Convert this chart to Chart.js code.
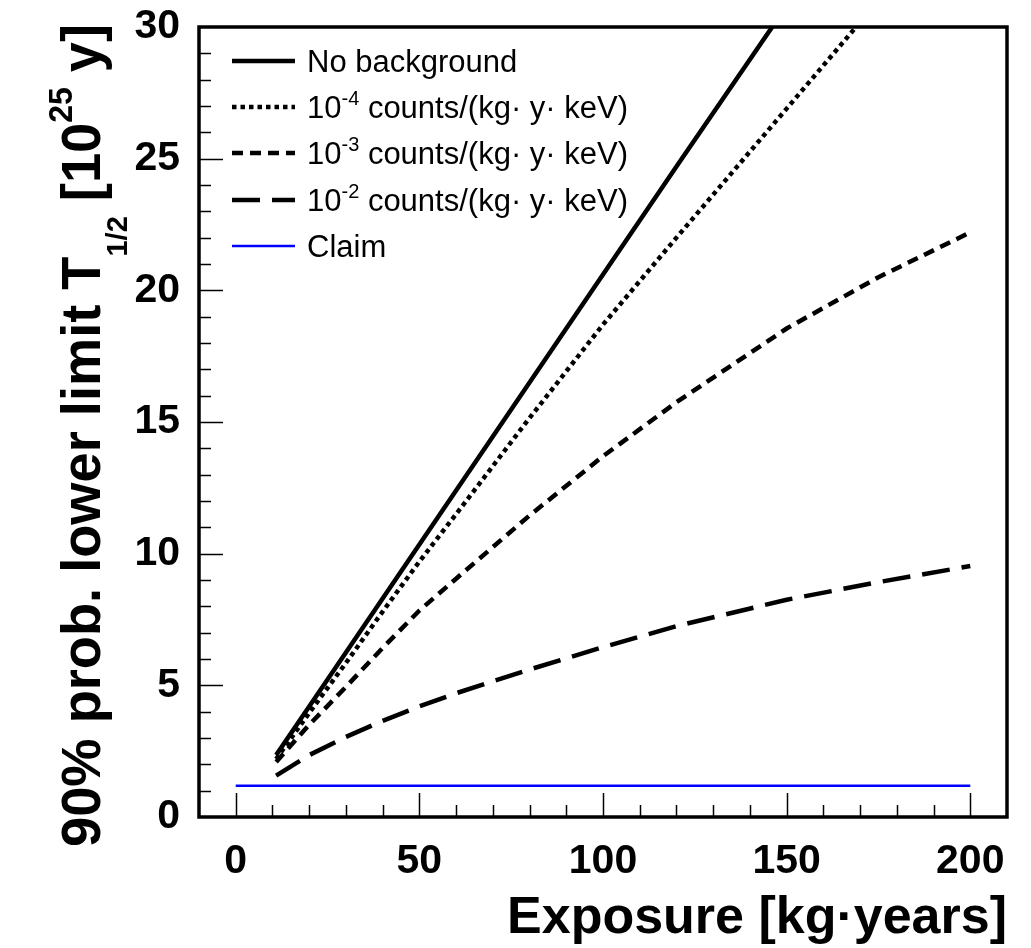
<!DOCTYPE html>
<html>
<head>
<meta charset="utf-8">
<script src="https://cdn.jsdelivr.net/npm/chart.js@4/dist/chart.umd.min.js"></script>
<style>
  html, body { margin: 0; padding: 0; background: #fff; }
</style>
</head>
<body>
<canvas id="grafico" width="1031" height="948"></canvas>
<script>
// dados
const exposicao = [11, 20, 30, 40, 50, 60, 80, 100, 120, 150, 175, 200];
const semFundo  = [2.35, 4.2, 6.25, 8.3, 10.35, 12.4, 16.5, 20.6, 24.7, 30.8, null, null];
const fundo4    = [2.2, 3.95, 5.85, 7.8, 9.7, 11.5, 15.15, 18.7, 22.0, 26.9, 31.0, null];
const fundo3    = [2.09, 3.5, 4.94, 6.42, 7.84, 9.05, 11.45, 13.7, 15.75, 18.55, 20.5, 22.2];
const fundo2    = [1.57, 2.35, 3.04, 3.65, 4.2, 4.7, 5.6, 6.45, 7.25, 8.25, 8.92, 9.53];
const claimX = [0, 200];
const claimY = [1.19, 1.19];

const xTicks = [0, 50, 100, 150, 200];
const yTicks = [0, 5, 10, 15, 20, 25, 30];

const rotulos = [
  'No background',
  '10^{-4} counts/(kg· y· keV)',
  '10^{-3} counts/(kg· y· keV)',
  '10^{-2} counts/(kg· y· keV)',
  'Claim'
];
const tituloX = 'Exposure [kg·years]';
const tituloY = '90% prob. lower limit T_{1/2} [10^{25} y]';

const FONTE = '"Liberation Sans", Arial, Helvetica, sans-serif';

function pontos(xs, ys) {
  return xs.map((x, i) => ({ x: x, y: ys[i] }));
}

// texto com ^{} e _{}
function textoRico(ctx, txt, y, tam, peso, supTam, supDy, subTam, subDy) {
  const partes = txt.split(/(\^\{[^}]*\}|_\{[^}]*\})/).filter(p => p.length);
  const itens = partes.map(p => {
    if (p.startsWith('^{')) return { t: p.slice(2, -1), s: supTam, dy: -supDy };
    if (p.startsWith('_{')) return { t: p.slice(2, -1), s: subTam, dy: subDy };
    return { t: p, s: tam, dy: 0 };
  });
  let larg = 0;
  itens.forEach(it => {
    ctx.font = peso + ' ' + it.s + 'px ' + FONTE;
    it.w = ctx.measureText(it.t).width;
    larg += it.w;
  });
  return {
    larg: larg,
    desenha(x0) {
      let cx = x0;
      itens.forEach(it => {
        ctx.font = peso + ' ' + it.s + 'px ' + FONTE;
        ctx.fillText(it.t, cx, y + it.dy);
        cx += it.w;
      });
    }
  };
}

const moldura = {
  id: 'moldura',
  afterDraw(chart) {
    const { ctx, chartArea: a, scales: { x, y } } = chart;
    ctx.save();
    ctx.strokeStyle = '#000';
    ctx.fillStyle = '#000';

    // marcas dos eixos (para dentro)
    ctx.lineWidth = 1.5;
    ctx.beginPath();
    for (let v = 0; v <= 200; v += 10) {
      const px = Math.round(x.getPixelForValue(v)) + 0.5;
      const len = v % 50 === 0 ? 24 : 12;
      ctx.moveTo(px, a.bottom);
      ctx.lineTo(px, a.bottom - len);
    }
    for (let v = 1; v < 30; v += 1) {
      const py = Math.round(y.getPixelForValue(v)) + 0.5;
      const len = v % 5 === 0 ? 24 : 12;
      ctx.moveTo(a.left, py);
      ctx.lineTo(a.left + len, py);
    }
    ctx.stroke();

    // caixa
    ctx.lineWidth = 3.5;
    ctx.strokeRect(a.left, a.top, a.right - a.left, a.bottom - a.top);

    // legenda
    const linhasY = [61, 107, 153, 200, 246];
    chart.data.datasets.forEach((ds, i) => {
      const ly = linhasY[i];
      ctx.save();
      ctx.strokeStyle = ds.borderColor;
      ctx.lineWidth = ds.borderWidth;
      ctx.setLineDash(ds.borderDash || []);
      ctx.beginPath();
      ctx.moveTo(232, ly);
      ctx.lineTo(295, ly);
      ctx.stroke();
      ctx.restore();
      ctx.textBaseline = 'alphabetic';
      ctx.textAlign = 'left';
      const r = textoRico(ctx, ds.label, ly + 11, 31, 'normal', 20, 13, 20, 8);
      r.desenha(307);
    });

    // título X
    ctx.textAlign = 'left';
    ctx.textBaseline = 'alphabetic';
    const tx = textoRico(ctx, tituloX, 933, 52, 'bold', 30, 20, 30, 10);
    tx.desenha(a.right - tx.larg);

    // título Y (girado, um pouco condensado)
    ctx.translate(100, 24);
    ctx.rotate(-Math.PI / 2);
    ctx.scale(0.968, 1);
    const ty = textoRico(ctx, tituloY, 0, 56, 'bold', 33, 28, 30, 27);
    ty.desenha(-ty.larg);

    ctx.restore();
  }
};

const ctx = document.getElementById('grafico').getContext('2d');

const grafico = new Chart(ctx, {
  type: 'scatter',
  data: {
    datasets: [
      { label: rotulos[0], data: pontos(exposicao, semFundo), borderColor: '#000', borderWidth: 4.5, borderDash: [] },
      { label: rotulos[1], data: pontos(exposicao, fundo4), borderColor: '#000', borderWidth: 4.5, borderDash: [4.5, 4] },
      { label: rotulos[2], data: pontos(exposicao, fundo3), borderColor: '#000', borderWidth: 4.5, borderDash: [11, 7] },
      { label: rotulos[3], data: pontos(exposicao, fundo2), borderColor: '#000', borderWidth: 4.5, borderDash: [28, 12] },
      { label: rotulos[4], data: pontos(claimX, claimY), borderColor: '#0000ff', borderWidth: 2.5, borderDash: [] }
    ].map(d => Object.assign(d, { showLine: true, pointRadius: 0, fill: false, tension: 0, clip: 0, spanGaps: false }))
  },
  options: {
    responsive: false,
    animation: false,
    events: [],
    layout: { padding: { top: 27, right: 24, left: 0, bottom: 0 } },
    plugins: { legend: { display: false }, tooltip: { enabled: false } },
    scales: {
      x: {
        type: 'linear',
        min: -10,
        max: 210,
        afterBuildTicks: s => { s.ticks = xTicks.map(v => ({ value: v })); },
        afterFit: s => { s.height = 131; s.paddingLeft = 0; s.paddingRight = 0; },
        grid: { display: false, drawTicks: false },
        border: { display: false },
        ticks: { color: '#000', padding: 20, maxRotation: 0, autoSkip: false, font: { family: FONTE, size: 41, weight: 'bold' } }
      },
      y: {
        type: 'linear',
        min: 0,
        max: 30,
        afterBuildTicks: s => { s.ticks = yTicks.map(v => ({ value: v })); },
        afterFit: s => { s.width = 199; s.paddingTop = 0; s.paddingBottom = 0; },
        grid: { display: false, drawTicks: false },
        border: { display: false },
        ticks: { color: '#000', padding: 19, autoSkip: false, font: { family: FONTE, size: 41, weight: 'bold' } }
      }
    }
  },
  plugins: [moldura]
});
</script>
</body>
</html>
